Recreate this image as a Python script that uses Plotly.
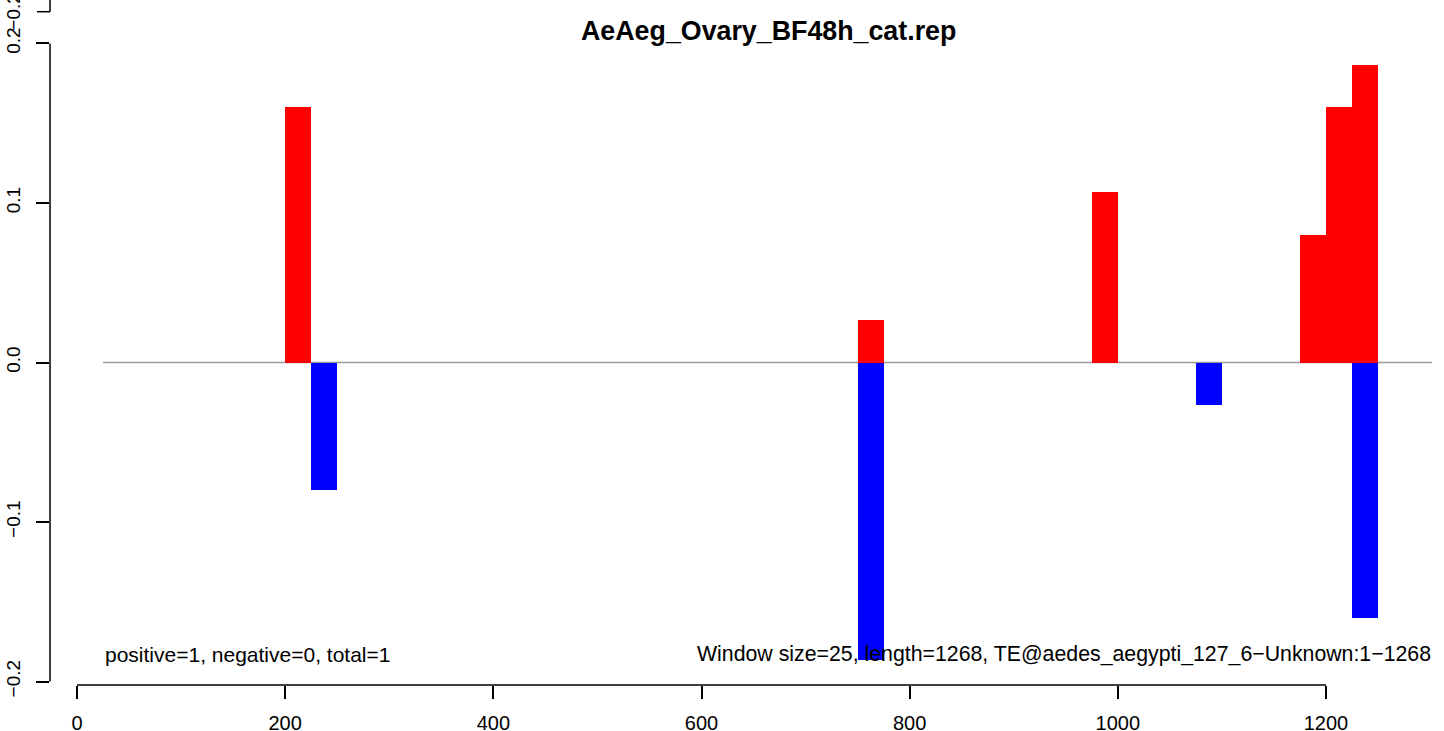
import plotly.graph_objects as go

# ---- data (window size 25, bins given by their start position) ----
pos_starts = [200, 750, 975, 1175, 1200, 1225]
pos_values = [0.16, 0.0267, 0.1067, 0.08, 0.16, 0.1867]
neg_starts = [225, 750, 1075, 1225]
neg_values = [-0.08, -0.1867, -0.0267, -0.16]
window_size = 25

x_tickvals = [0, 200, 400, 600, 800, 1000, 1200]
x_ticktext = ["0", "200", "400", "600", "800", "1000", "1200"]
y_tickvals = [-0.2, -0.1, 0.0, 0.1, 0.2]
y_ticktext = ["\u22120.2", "\u22120.1", "0.0", "0.1", "0.2"]

title_text = "AeAeg_Ovary_BF48h_cat.rep"
left_note = "positive=1, negative=0, total=1"
right_note = "Window size=25, length=1268, TE@aedes_aegypti_127_6\u2212Unknown:1\u22121268"
zero_line_start = 25

# ---- layout geometry ----
W, H = 1444, 731
ML, MR, MT, MB = 50, 12, 30, 46
PW, PH = W - ML - MR, H - MT - MB
x_range = [-25.94, 1301.84]
y_range = [-0.20219, 0.20846]

def px_to_paper_x(px):
    return (px - ML) / PW

def py_to_paper_y(py):
    return (H - MB - py) / PH

FONT = "Liberation Sans, Arial, Helvetica, sans-serif"

fig = go.Figure()
fig.add_trace(go.Bar(x=pos_starts, y=pos_values, width=window_size, offset=0,
                     marker=dict(color="#FF0000", line=dict(width=0)),
                     showlegend=False, hoverinfo="x+y"))
fig.add_trace(go.Bar(x=neg_starts, y=neg_values, width=window_size, offset=0,
                     marker=dict(color="#0000FF", line=dict(width=0)),
                     showlegend=False, hoverinfo="x+y"))

shapes = [
    # zero line
    dict(type="line", xref="x", yref="y", x0=zero_line_start, x1=x_range[1], y0=0, y1=0,
         line=dict(color="#9a9a9a", width=1.5), layer="below"),
    # x axis line (R style, spans tick range)
    dict(type="line", xref="x", yref="paper", x0=x_tickvals[0], x1=x_tickvals[-1], y0=0, y1=0,
         line=dict(color="black", width=1.5)),
    # y axis line
    dict(type="line", xref="paper", yref="y", x0=0, x1=0, y0=y_tickvals[0], y1=y_tickvals[-1],
         line=dict(color="black", width=1.5)),
    # fragment of the panel above (its bottom axis end)
    dict(type="line", xref="paper", yref="paper", x0=0, x1=0,
         y0=py_to_paper_y(11.7), y1=py_to_paper_y(-2),
         line=dict(color="black", width=1.5)),
    dict(type="line", xref="paper", yref="paper", x0=px_to_paper_x(37), x1=0,
         y0=py_to_paper_y(11.7), y1=py_to_paper_y(11.7),
         line=dict(color="black", width=1.5)),
]

annotations = [
    dict(text="<b>" + title_text + "</b>", xref="paper", yref="paper",
         x=px_to_paper_x(768), y=py_to_paper_y(31), xanchor="center", yanchor="middle",
         showarrow=False, font=dict(family=FONT, size=26.8, color="black")),
    dict(text=left_note, xref="paper", yref="paper",
         x=px_to_paper_x(103), y=py_to_paper_y(654), xanchor="left", yanchor="middle",
         showarrow=False, font=dict(family=FONT, size=21, color="black")),
    dict(text=right_note, xref="paper", yref="paper",
         x=px_to_paper_x(1433), y=py_to_paper_y(654), xanchor="right", yanchor="middle",
         showarrow=False, font=dict(family=FONT, size=21.3, color="black")),
    dict(text="\u22120.2", xref="paper", yref="paper",
         x=px_to_paper_x(14), y=py_to_paper_y(11.7), xanchor="center", yanchor="middle",
         textangle=-90, showarrow=False, font=dict(family=FONT, size=19, color="black")),
]

fig.update_layout(
    width=W, height=H,
    margin=dict(l=ML, r=MR, t=MT, b=MB, pad=0, autoexpand=False),
    paper_bgcolor="white", plot_bgcolor="white",
    barmode="overlay", bargap=0,
    shapes=shapes, annotations=annotations,
    font=dict(family=FONT, color="black"),
    xaxis=dict(range=x_range, tickmode="array", tickvals=x_tickvals, ticktext=x_ticktext,
               ticks="outside", ticklen=13, tickwidth=1.5, tickcolor="black",
               showgrid=False, zeroline=False, showline=False, automargin=False,
               tickfont=dict(family=FONT, size=20, color="black"),
               ticklabelstandoff=7),
    yaxis=dict(range=y_range, tickmode="array", tickvals=y_tickvals, ticktext=y_ticktext,
               ticks="outside", ticklen=13, tickwidth=1.5, tickcolor="black",
               showgrid=False, zeroline=False, showline=False, tickangle=-90, automargin=False,
               tickfont=dict(family=FONT, size=19, color="black"),
               ticklabelstandoff=8),
)

fig.write_html("out.html", config={"displayModeBar": False},
               post_script="document.body.style.margin='0';document.body.style.overflow='hidden';")
